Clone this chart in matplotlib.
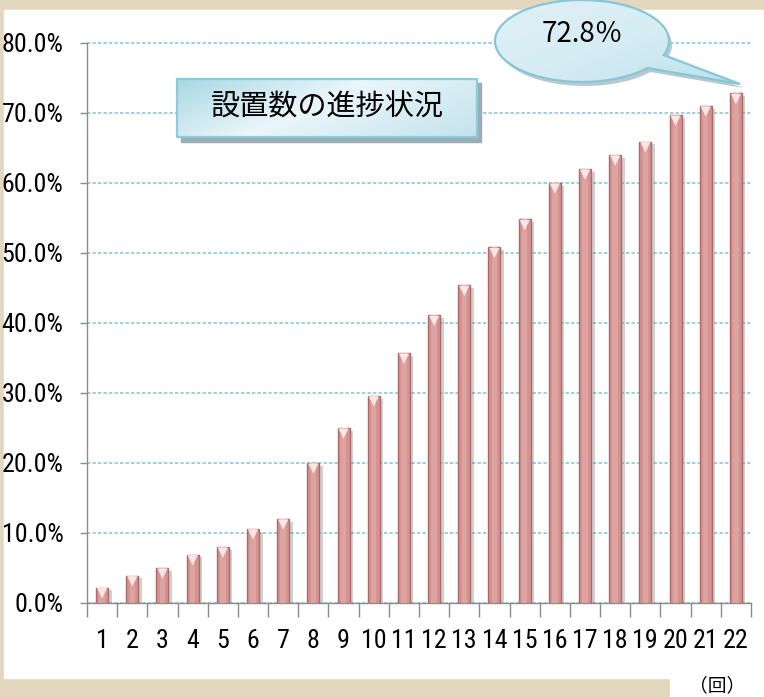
import os
import numpy as np
import matplotlib
matplotlib.use("Agg")
import matplotlib.pyplot as plt
from matplotlib.patches import Rectangle, PathPatch
from matplotlib.path import Path
import matplotlib.patheffects as pe
import matplotlib.transforms as mtransforms
from matplotlib.colors import LinearSegmentedColormap
from matplotlib import font_manager
from matplotlib.font_manager import FontProperties

# ---------------- data ----------------
rounds = [str(i) for i in range(1, 23)]
progress = [2.2, 3.9, 5.0, 6.9, 8.0, 10.6, 12.0, 20.0, 25.0, 29.6, 35.7,
            41.1, 45.4, 50.8, 54.8, 60.0, 62.0, 64.0, 65.9, 69.7, 71.0, 72.8]
y_ticks = [0, 10, 20, 30, 40, 50, 60, 70, 80]
y_tick_labels = [f"{v:.1f}%" for v in y_ticks]
title_text = "設置数の進捗状況"
callout_text = "72.8％"
unit_text = "（回）"

# ---------------- fonts ----------------
BAD = ("bold", "italic", "oblique", "light", "thin", "black", "medium",
       "semibold", "extrabold", "heavy", "mono", "serif", "display", "ui")


def pick_narrow():
    prefs = ["liberationsansnarrow", "arialnarrow", "notosans-extracondensed",
             "robotocondensed", "notosans-condensed", "dejavusanscondensed",
             "opensans_condensed", "opensans-condensed", "notosans-semicondensed"]
    found = {}
    for f in font_manager.fontManager.ttflist:
        base = os.path.basename(f.fname).lower()
        stem = os.path.splitext(base)[0]
        low = stem.replace(" ", "")
        if not ("narrow" in low or "condensed" in low or f.stretch == "condensed"):
            continue
        rest = low
        for p in prefs:
            rest = rest.replace(p, "")
        if any(b in rest for b in BAD):
            continue
        for i, p in enumerate(prefs):
            if low.startswith(p):
                found.setdefault(i, f.fname)
        found.setdefault(100, f.fname)
    if found:
        return FontProperties(fname=found[min(found)])
    return FontProperties(family="Liberation Sans")


W, H = 764, 697
fig = plt.figure(figsize=(W / 100, H / 100), dpi=100)
renderer = fig.canvas.get_renderer()

num_fp = pick_narrow()
base_size = 20.5
num_fp.set_size(base_size)
w_px, _, _ = renderer.get_text_width_height_descent("80.0%", num_fp, ismath=False)
num_fp.set_size(min(base_size, base_size * 62.0 / w_px))

cjk = ["Noto Sans CJK JP", "DejaVu Sans"]

# ---------------- background ----------------
bg = fig.add_axes([0, 0, 1, 1], zorder=0)
bg.set_xlim(0, W)
bg.set_ylim(H, 0)
bg.axis("off")
bg.add_patch(Rectangle((0, 0), W, H, color="#e3d8be"))
bg.add_patch(Rectangle((4, 10), W - 4, 668, color="white"))
bg.add_patch(Rectangle((670, 678), W - 670, H - 678, color="white"))

# ---------------- main chart ----------------
ax = fig.add_axes([87 / W, (H - 603) / H, (751 - 87) / W, 560 / H], zorder=1)
ax.patch.set_alpha(0)
x = np.arange(len(rounds))

shadow = [pe.SimplePatchShadow(offset=(2.5, -2), shadow_rgbFace="#7a7a7a", alpha=0.35),
          pe.Normal()]
ax.bar(x, progress, width=0.4, color="#d69290", edgecolor="#a86b6a",
       linewidth=1.0, zorder=3, path_effects=shadow)
ax.bar(x, progress, width=0.18, color="#dea2a1", linewidth=0, zorder=4)

tri_off = mtransforms.ScaledTranslation(0, -4 / 72, fig.dpi_scale_trans)
ax.scatter(x, progress, marker="v", s=55, color="#fbe6e6", edgecolors="none",
           zorder=5, transform=ax.transData + tri_off)

ax.set_xlim(-0.5, len(rounds) - 0.5)
ax.set_ylim(0, 80)
ax.set_yticks(y_ticks)
ax.set_yticklabels(y_tick_labels, fontproperties=num_fp)
ax.set_xticks(x)
ax.set_xticklabels(rounds, fontproperties=num_fp)
ax.set_xticks(np.arange(-0.5, len(rounds)), minor=True)
ax.tick_params(axis="x", which="major", length=0, pad=19)
ax.tick_params(axis="x", which="minor", length=10, color="#8c8c8c", width=1)
ax.tick_params(axis="y", which="major", length=5, color="#8c8c8c", width=1, pad=12)

for s in ("top", "right"):
    ax.spines[s].set_visible(False)
for s in ("left", "bottom"):
    ax.spines[s].set_color("#8c8c8c")
    ax.spines[s].set_linewidth(1)

ax.yaxis.grid(True, color="#7ec4d9", linestyle=(0, (2.2, 1.4)), linewidth=1.1, zorder=1)
ax.set_axisbelow(True)
for gl in ax.get_ygridlines():
    gl.set_clip_on(False)

# ---------------- foreground decorations ----------------
fg = fig.add_axes([0, 0, 1, 1], zorder=3)
fg.patch.set_alpha(0)
fg.axis("off")


def gradient_fill(path_patch, extent, colors, angle_weight=(0.7, 0.3)):
    l, r, b, t = extent
    nx, ny = 200, 100
    gx = np.linspace(0, 1, nx)[None, :]
    gy = np.linspace(0, 1, ny)[:, None]
    g = angle_weight[0] * gx + angle_weight[1] * gy
    cmap = LinearSegmentedColormap.from_list("g", colors)
    im = fg.imshow(g, extent=(l, r, b, t), origin="upper", cmap=cmap,
                   vmin=0, vmax=1, aspect="auto", zorder=path_patch.get_zorder() - 0.1,
                   interpolation="bilinear")
    im.set_clip_path(path_patch)


# title box
fg.add_patch(Rectangle((181, 83), 300, 59, color="#98adb6", zorder=2))
box = Rectangle((177, 79), 300, 58, facecolor="none", edgecolor="#8ccbdb",
                linewidth=1.6, zorder=4)
fg.add_patch(box)
gradient_fill(box, (177, 477, 137, 79),
              [(0.0, "#a9d8e4"), (0.45, "#eaf6fa"), (1.0, "#c3e3ec")])
fg.text(327, 108, title_text, family=cjk, fontsize=21, ha="center",
        va="center", color="black", zorder=6)

# callout bubble
cx, cy, a, b = 582, 41, 87, 41
t0, t1 = 0.72, 2 * np.pi + 0.35
ts = np.linspace(t0, t1, 200)
pts = [(cx + a * np.cos(tt), cy + b * np.sin(tt)) for tt in ts]
pts.append((740, 84))
pts.append(pts[0])
codes = [Path.MOVETO] + [Path.LINETO] * (len(pts) - 2) + [Path.CLOSEPOLY]
bubble_path = Path(pts, codes)
shadow_path = Path([(px + 3, py + 4) for px, py in pts], codes)
fg.add_patch(PathPatch(shadow_path, facecolor="#a9bcc4", edgecolor="none",
                       alpha=0.8, zorder=2))
bubble = PathPatch(bubble_path, facecolor="none", edgecolor="#86c6d8",
                   linewidth=1.6, zorder=4)
fg.add_patch(bubble)
gradient_fill(bubble, (490, 745, 88, -2),
              [(0.0, "#dff0f6"), (0.5, "#d6edf4"), (1.0, "#b9dfea")],
              angle_weight=(0.5, 0.5))
fg.text(582, 34, callout_text, family=cjk, fontsize=20, ha="center",
        va="center", color="black", zorder=6)

# unit label
fg.text(717, 686, unit_text, family=cjk, fontsize=13.5, ha="center",
        va="center", color="black", zorder=6)

fg.set_xlim(0, W)
fg.set_ylim(H, 0)

fig.savefig("out.png", dpi=100)
